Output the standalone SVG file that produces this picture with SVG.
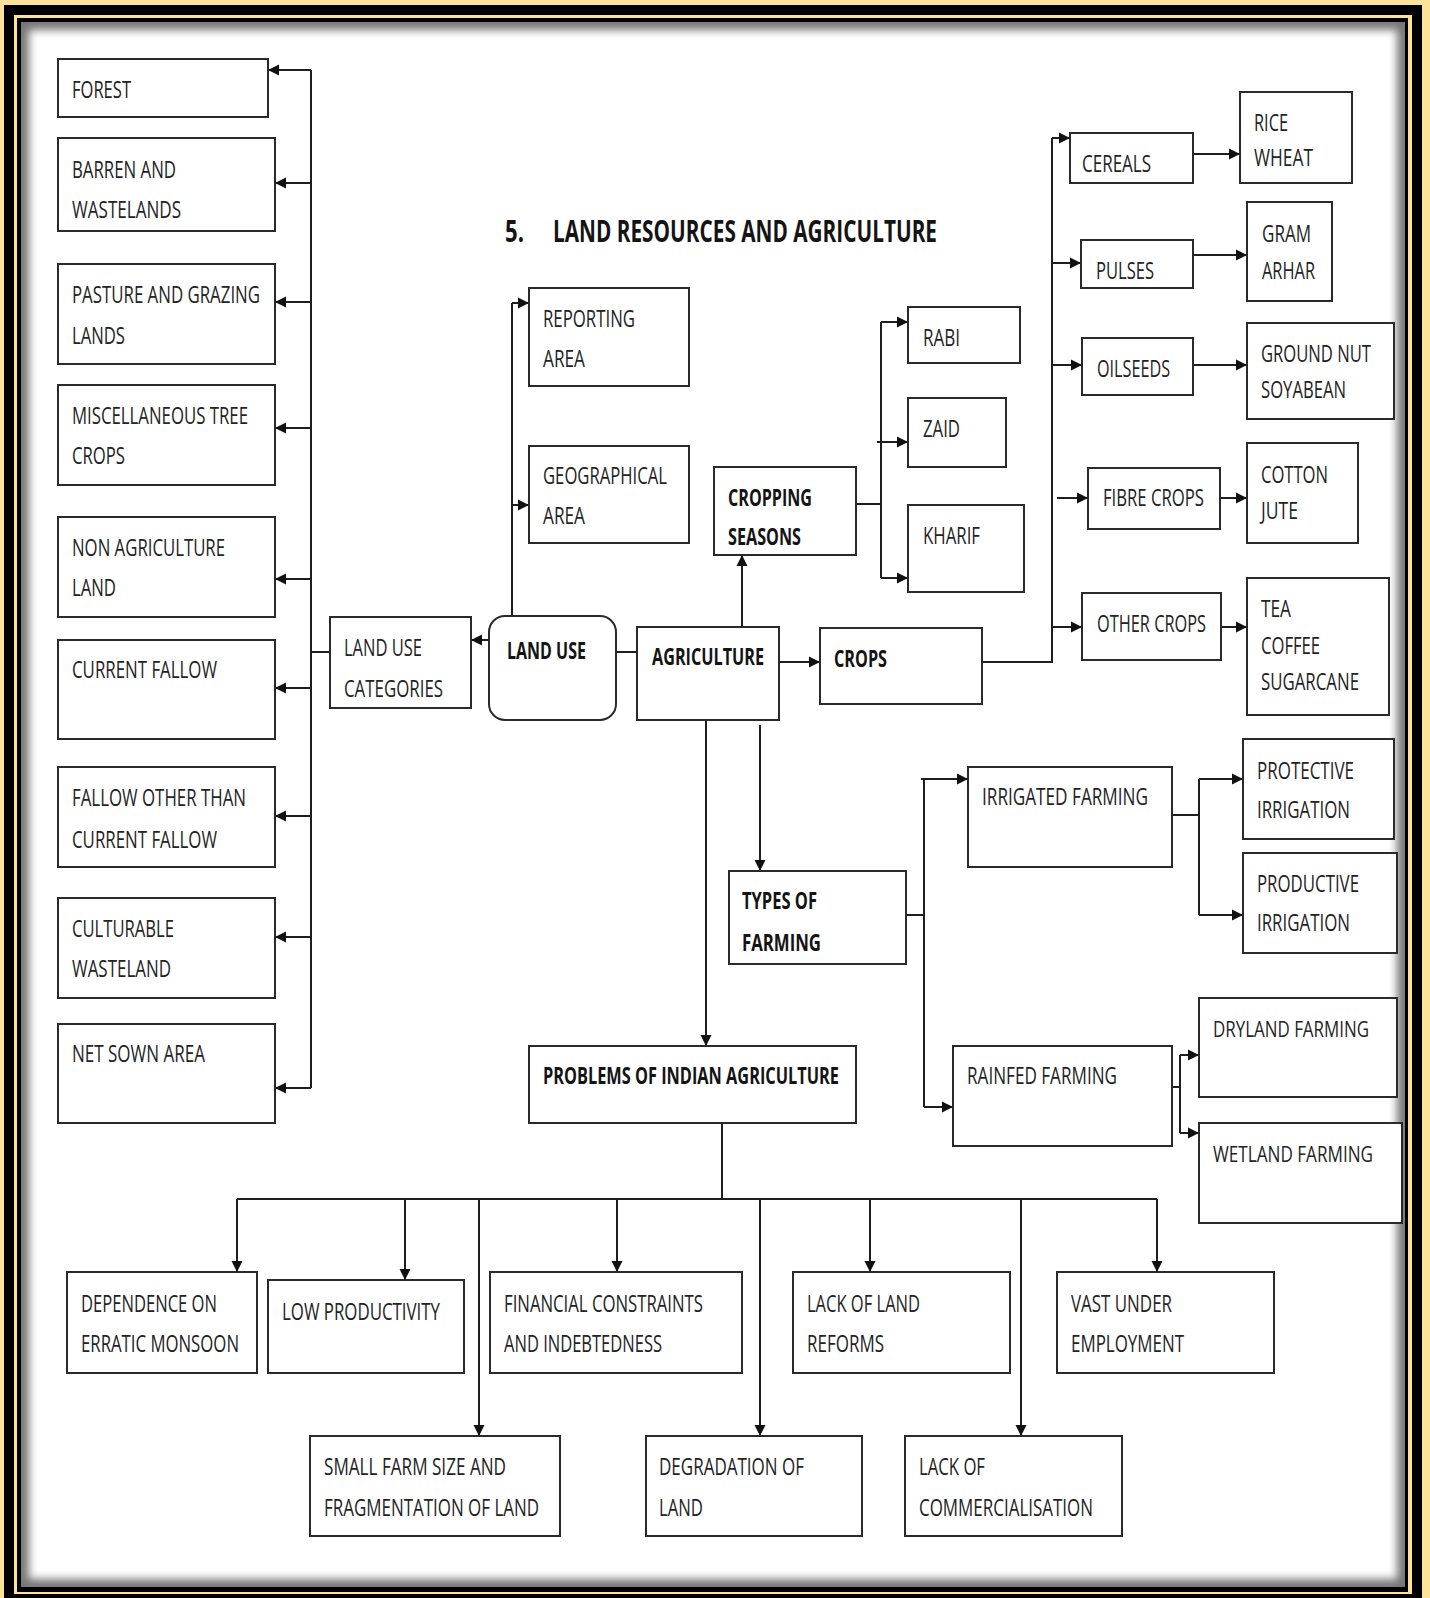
<svg xmlns="http://www.w3.org/2000/svg" width="1430" height="1598" viewBox="0 0 1430 1598">
  <style>
    .box { fill: #ffffff; stroke: #2a2a2a; stroke-width: 2; }
    .t { font-family: "Open Sans", "Liberation Sans", sans-serif; font-size: 24px; fill: #232323; }
    .tn { font-family: "Open Sans", "Liberation Sans", sans-serif; font-size: 22px; fill: #232323; }
    .b { font-family: "Open Sans", "Liberation Sans", sans-serif; font-size: 24px; font-weight: bold; fill: #141414; }
    .title { font-family: "Open Sans", "Liberation Sans", sans-serif; font-size: 31px; font-weight: bold; fill: #141414; }
    .ln { fill: none; stroke: #1e1e1e; stroke-width: 2; }
    .ar { fill: none; stroke: #1e1e1e; stroke-width: 2; marker-end: url(#head); }
  </style>
  <defs>
    <marker id="head" markerUnits="userSpaceOnUse" markerWidth="12" markerHeight="12" refX="11" refY="6" orient="auto">
      <path d="M0,0.5 L11,6 L0,11.5 z" fill="#111111"/>
    </marker>
    <clipPath id="inner"><rect x="21" y="22" width="1384" height="1565"/></clipPath>
    <filter id="soft" x="-5%" y="-5%" width="110%" height="110%"><feGaussianBlur stdDeviation="4"/></filter>
  </defs>

  <!-- frame -->
  <rect x="0" y="0" width="1430" height="1598" fill="#fde29a"/>
  <rect x="4" y="5" width="1418" height="1600" fill="#000000"/>
  <rect x="14" y="15" width="1398" height="1579" fill="#fde29a"/>
  <rect x="17" y="18" width="1391" height="1574" fill="#000000"/>
  <g clip-path="url(#inner)">
    <rect x="21" y="22" width="1384" height="1565" fill="#777777"/>
    <rect x="29" y="30" width="1368" height="1549" fill="#ffffff" filter="url(#soft)"/>
  </g>

  <!-- heading -->
  <text class="title" x="505" y="242" textLength="19" lengthAdjust="spacingAndGlyphs">5.</text>
  <text class="title" x="553" y="242" textLength="384" lengthAdjust="spacingAndGlyphs">LAND RESOURCES AND AGRICULTURE</text>

  <!-- connectors -->
  <g id="connectors">
    <!-- land use categories bus -->
    <path class="ln" d="M311,70 V1088 M330,652 H311"/>
    <path class="ar" d="M311,70 H268"/>
    <path class="ar" d="M311,183 H275"/>
    <path class="ar" d="M311,302 H275"/>
    <path class="ar" d="M311,428 H275"/>
    <path class="ar" d="M311,579 H275"/>
    <path class="ar" d="M311,688 H275"/>
    <path class="ar" d="M311,816 H275"/>
    <path class="ar" d="M311,937 H275"/>
    <path class="ar" d="M311,1088 H275"/>
    <path class="ar" d="M489,640 H471"/>
    <path class="ln" d="M616,652 H637"/>
    <!-- land use to areas -->
    <path class="ln" d="M512,616 V303"/>
    <path class="ar" d="M512,303 H529"/>
    <path class="ar" d="M512,505 H529"/>
    <!-- cropping seasons -->
    <path class="ar" d="M742,627 V555"/>
    <path class="ln" d="M856,504 H881 M881,322 V578"/>
    <path class="ar" d="M881,322 H908"/>
    <path class="ar" d="M877,442 H908"/>
    <path class="ar" d="M881,578 H908"/>
    <!-- crops -->
    <path class="ar" d="M779,662 H820"/>
    <path class="ln" d="M982,662 H1052 V138"/>
    <path class="ar" d="M1052,138 H1070"/>
    <path class="ar" d="M1052,263 H1081"/>
    <path class="ar" d="M1052,365 H1082"/>
    <path class="ar" d="M1057,498 H1088"/>
    <path class="ar" d="M1052,627 H1082"/>
    <path class="ar" d="M1193,154 H1240"/>
    <path class="ar" d="M1193,255 H1247"/>
    <path class="ar" d="M1193,365 H1247"/>
    <path class="ar" d="M1220,498 H1247"/>
    <path class="ar" d="M1221,627 H1247"/>
    <!-- types of farming -->
    <path class="ar" d="M760,725 V871"/>
    <path class="ln" d="M906,915 H924 M924,779 V1107"/>
    <path class="ar" d="M921,779 H968"/>
    <path class="ar" d="M924,1107 H953"/>
    <path class="ln" d="M1172,815 H1199 M1199,779 V915"/>
    <path class="ar" d="M1199,779 H1243"/>
    <path class="ar" d="M1199,915 H1243"/>
    <path class="ln" d="M1172,1087 H1180 M1180,1055 V1133"/>
    <path class="ar" d="M1180,1055 H1199"/>
    <path class="ar" d="M1180,1133 H1199"/>
    <!-- problems -->
    <path class="ar" d="M706,720 V1046"/>
    <path class="ln" d="M722,1123 V1199 M237,1199 H1157"/>
    <path class="ar" d="M237,1199 V1272"/>
    <path class="ar" d="M405,1199 V1280"/>
    <path class="ar" d="M479,1199 V1436"/>
    <path class="ar" d="M617,1199 V1272"/>
    <path class="ar" d="M760,1199 V1436"/>
    <path class="ar" d="M870,1199 V1272"/>
    <path class="ar" d="M1021,1199 V1436"/>
    <path class="ar" d="M1157,1199 V1272"/>
  </g>

  <!-- land use categories -->
  <g id="forest"><rect class="box" x="58" y="59" width="210" height="58"/>
    <text class="t" x="72" y="98" textLength="59" lengthAdjust="spacingAndGlyphs">FOREST</text></g>
  <g id="barren"><rect class="box" x="58" y="138" width="217" height="93"/>
    <text class="t" x="72" y="178" textLength="104" lengthAdjust="spacingAndGlyphs">BARREN AND</text>
    <text class="t" x="72" y="218" textLength="109" lengthAdjust="spacingAndGlyphs">WASTELANDS</text></g>
  <g id="pasture"><rect class="box" x="58" y="264" width="217" height="100"/>
    <text class="t" x="72" y="303" textLength="188" lengthAdjust="spacingAndGlyphs">PASTURE AND GRAZING</text>
    <text class="t" x="72" y="344" textLength="53" lengthAdjust="spacingAndGlyphs">LANDS</text></g>
  <g id="misc-tree"><rect class="box" x="58" y="385" width="217" height="100"/>
    <text class="t" x="72" y="424" textLength="176" lengthAdjust="spacingAndGlyphs">MISCELLANEOUS TREE</text>
    <text class="t" x="72" y="464" textLength="53" lengthAdjust="spacingAndGlyphs">CROPS</text></g>
  <g id="non-agri"><rect class="box" x="58" y="517" width="217" height="100"/>
    <text class="t" x="72" y="556" textLength="153" lengthAdjust="spacingAndGlyphs">NON AGRICULTURE</text>
    <text class="t" x="72" y="596" textLength="44" lengthAdjust="spacingAndGlyphs">LAND</text></g>
  <g id="current-fallow"><rect class="box" x="58" y="640" width="217" height="99"/>
    <text class="t" x="72" y="678" textLength="145" lengthAdjust="spacingAndGlyphs">CURRENT FALLOW</text></g>
  <g id="fallow-other"><rect class="box" x="58" y="767" width="217" height="100"/>
    <text class="t" x="72" y="806" textLength="174" lengthAdjust="spacingAndGlyphs">FALLOW OTHER THAN</text>
    <text class="t" x="72" y="848" textLength="145" lengthAdjust="spacingAndGlyphs">CURRENT FALLOW</text></g>
  <g id="culturable"><rect class="box" x="58" y="898" width="217" height="100"/>
    <text class="t" x="72" y="937" textLength="102" lengthAdjust="spacingAndGlyphs">CULTURABLE</text>
    <text class="t" x="72" y="977" textLength="99" lengthAdjust="spacingAndGlyphs">WASTELAND</text></g>
  <g id="net-sown"><rect class="box" x="58" y="1024" width="217" height="99"/>
    <text class="t" x="72" y="1062" textLength="133" lengthAdjust="spacingAndGlyphs">NET SOWN AREA</text></g>

  <g id="land-use-categories"><rect class="box" x="330" y="617" width="141" height="91"/>
    <text class="t" x="344" y="656" textLength="78" lengthAdjust="spacingAndGlyphs">LAND USE</text>
    <text class="t" x="344" y="697" textLength="99" lengthAdjust="spacingAndGlyphs">CATEGORIES</text></g>
  <g id="land-use"><rect class="box" x="489" y="616" width="127" height="104" rx="16"/>
    <text class="b" x="507" y="659" textLength="79" lengthAdjust="spacingAndGlyphs">LAND USE</text></g>
  <g id="agriculture"><rect class="box" x="637" y="627" width="142" height="93"/>
    <text class="b" x="652" y="665" textLength="112" lengthAdjust="spacingAndGlyphs">AGRICULTURE</text></g>
  <g id="crops"><rect class="box" x="820" y="628" width="162" height="76"/>
    <text class="b" x="834" y="667" textLength="53" lengthAdjust="spacingAndGlyphs">CROPS</text></g>

  <g id="reporting-area"><rect class="box" x="529" y="288" width="160" height="98"/>
    <text class="t" x="543" y="327" textLength="92" lengthAdjust="spacingAndGlyphs">REPORTING</text>
    <text class="t" x="543" y="367" textLength="42" lengthAdjust="spacingAndGlyphs">AREA</text></g>
  <g id="geographical-area"><rect class="box" x="529" y="446" width="160" height="97"/>
    <text class="t" x="543" y="484" textLength="124" lengthAdjust="spacingAndGlyphs">GEOGRAPHICAL</text>
    <text class="t" x="543" y="524" textLength="42" lengthAdjust="spacingAndGlyphs">AREA</text></g>

  <g id="cropping-seasons"><rect class="box" x="714" y="467" width="142" height="88"/>
    <text class="b" x="728" y="506" textLength="84" lengthAdjust="spacingAndGlyphs">CROPPING</text>
    <text class="b" x="728" y="545" textLength="73" lengthAdjust="spacingAndGlyphs">SEASONS</text></g>
  <g id="rabi"><rect class="box" x="908" y="307" width="112" height="56"/>
    <text class="t" x="923" y="346" textLength="37" lengthAdjust="spacingAndGlyphs">RABI</text></g>
  <g id="zaid"><rect class="box" x="908" y="398" width="98" height="69"/>
    <text class="t" x="923" y="437" textLength="37" lengthAdjust="spacingAndGlyphs">ZAID</text></g>
  <g id="kharif"><rect class="box" x="908" y="505" width="116" height="87"/>
    <text class="t" x="923" y="544" textLength="57" lengthAdjust="spacingAndGlyphs">KHARIF</text></g>

  <!-- crop groups -->
  <g id="cereals"><rect class="box" x="1070" y="133" width="123" height="50"/>
    <text class="t" x="1082" y="172" textLength="69" lengthAdjust="spacingAndGlyphs">CEREALS</text></g>
  <g id="pulses"><rect class="box" x="1081" y="240" width="112" height="48"/>
    <text class="t" x="1096" y="279" textLength="58" lengthAdjust="spacingAndGlyphs">PULSES</text></g>
  <g id="oilseeds"><rect class="box" x="1082" y="338" width="111" height="57"/>
    <text class="t" x="1097" y="377" textLength="73" lengthAdjust="spacingAndGlyphs">OILSEEDS</text></g>
  <g id="fibre-crops"><rect class="box" x="1088" y="468" width="132" height="61"/>
    <text class="t" x="1103" y="506" textLength="101" lengthAdjust="spacingAndGlyphs">FIBRE CROPS</text></g>
  <g id="other-crops"><rect class="box" x="1082" y="593" width="139" height="67"/>
    <text class="t" x="1097" y="632" textLength="109" lengthAdjust="spacingAndGlyphs">OTHER CROPS</text></g>

  <g id="rice-wheat"><rect class="box" x="1240" y="92" width="112" height="91"/>
    <text class="t" x="1254" y="131" textLength="34" lengthAdjust="spacingAndGlyphs">RICE</text>
    <text class="t" x="1254" y="166" textLength="59" lengthAdjust="spacingAndGlyphs">WHEAT</text></g>
  <g id="gram-arhar"><rect class="box" x="1247" y="202" width="85" height="99"/>
    <text class="t" x="1262" y="242" textLength="49" lengthAdjust="spacingAndGlyphs">GRAM</text>
    <text class="t" x="1262" y="279" textLength="53" lengthAdjust="spacingAndGlyphs">ARHAR</text></g>
  <g id="groundnut-soyabean"><rect class="box" x="1247" y="323" width="147" height="96"/>
    <text class="t" x="1261" y="362" textLength="110" lengthAdjust="spacingAndGlyphs">GROUND NUT</text>
    <text class="t" x="1261" y="398" textLength="85" lengthAdjust="spacingAndGlyphs">SOYABEAN</text></g>
  <g id="cotton-jute"><rect class="box" x="1247" y="443" width="111" height="100"/>
    <text class="t" x="1261" y="483" textLength="67" lengthAdjust="spacingAndGlyphs">COTTON</text>
    <text class="t" x="1261" y="519" textLength="37" lengthAdjust="spacingAndGlyphs">JUTE</text></g>
  <g id="tea-coffee-sugarcane"><rect class="box" x="1247" y="578" width="142" height="137"/>
    <text class="t" x="1261" y="617" textLength="30" lengthAdjust="spacingAndGlyphs">TEA</text>
    <text class="t" x="1261" y="654" textLength="59" lengthAdjust="spacingAndGlyphs">COFFEE</text>
    <text class="t" x="1261" y="690" textLength="98" lengthAdjust="spacingAndGlyphs">SUGARCANE</text></g>

  <!-- farming types -->
  <g id="types-of-farming"><rect class="box" x="729" y="871" width="177" height="93"/>
    <text class="b" x="742" y="909" textLength="75" lengthAdjust="spacingAndGlyphs">TYPES OF</text>
    <text class="b" x="742" y="951" textLength="79" lengthAdjust="spacingAndGlyphs">FARMING</text></g>
  <g id="irrigated-farming"><rect class="box" x="968" y="767" width="204" height="100"/>
    <text class="t" x="982" y="805" textLength="166" lengthAdjust="spacingAndGlyphs">IRRIGATED FARMING</text></g>
  <g id="rainfed-farming"><rect class="box" x="953" y="1046" width="219" height="100"/>
    <text class="t" x="967" y="1084" textLength="150" lengthAdjust="spacingAndGlyphs">RAINFED FARMING</text></g>
  <g id="protective-irrigation"><rect class="box" x="1243" y="739" width="151" height="100"/>
    <text class="t" x="1257" y="779" textLength="97" lengthAdjust="spacingAndGlyphs">PROTECTIVE</text>
    <text class="t" x="1257" y="818" textLength="93" lengthAdjust="spacingAndGlyphs">IRRIGATION</text></g>
  <g id="productive-irrigation"><rect class="box" x="1243" y="853" width="154" height="100"/>
    <text class="t" x="1257" y="892" textLength="102" lengthAdjust="spacingAndGlyphs">PRODUCTIVE</text>
    <text class="t" x="1257" y="931" textLength="93" lengthAdjust="spacingAndGlyphs">IRRIGATION</text></g>
  <g id="dryland-farming"><rect class="box" x="1199" y="998" width="198" height="99"/>
    <text class="tn" x="1213" y="1037" textLength="156" lengthAdjust="spacingAndGlyphs">DRYLAND FARMING</text></g>
  <g id="wetland-farming"><rect class="box" x="1199" y="1123" width="203" height="100"/>
    <text class="tn" x="1213" y="1162" textLength="160" lengthAdjust="spacingAndGlyphs">WETLAND FARMING</text></g>

  <!-- problems -->
  <g id="problems"><rect class="box" x="529" y="1046" width="327" height="77"/>
    <text class="b" x="543" y="1084" textLength="296" lengthAdjust="spacingAndGlyphs">PROBLEMS OF INDIAN AGRICULTURE</text></g>
  <g id="monsoon"><rect class="box" x="67" y="1272" width="190" height="101"/>
    <text class="t" x="81" y="1312" textLength="136" lengthAdjust="spacingAndGlyphs">DEPENDENCE ON</text>
    <text class="t" x="81" y="1352" textLength="158" lengthAdjust="spacingAndGlyphs">ERRATIC MONSOON</text></g>
  <g id="low-productivity"><rect class="box" x="268" y="1280" width="196" height="93"/>
    <text class="t" x="282" y="1320" textLength="158" lengthAdjust="spacingAndGlyphs">LOW PRODUCTIVITY</text></g>
  <g id="financial"><rect class="box" x="490" y="1272" width="252" height="101"/>
    <text class="t" x="504" y="1312" textLength="199" lengthAdjust="spacingAndGlyphs">FINANCIAL CONSTRAINTS</text>
    <text class="t" x="504" y="1352" textLength="158" lengthAdjust="spacingAndGlyphs">AND INDEBTEDNESS</text></g>
  <g id="land-reforms"><rect class="box" x="793" y="1272" width="217" height="101"/>
    <text class="t" x="807" y="1312" textLength="113" lengthAdjust="spacingAndGlyphs">LACK OF LAND</text>
    <text class="t" x="807" y="1352" textLength="77" lengthAdjust="spacingAndGlyphs">REFORMS</text></g>
  <g id="under-employment"><rect class="box" x="1057" y="1272" width="217" height="101"/>
    <text class="t" x="1071" y="1312" textLength="101" lengthAdjust="spacingAndGlyphs">VAST UNDER</text>
    <text class="t" x="1071" y="1352" textLength="113" lengthAdjust="spacingAndGlyphs">EMPLOYMENT</text></g>
  <g id="small-farm"><rect class="box" x="310" y="1436" width="250" height="100"/>
    <text class="t" x="324" y="1475" textLength="182" lengthAdjust="spacingAndGlyphs">SMALL FARM SIZE AND</text>
    <text class="t" x="324" y="1516" textLength="215" lengthAdjust="spacingAndGlyphs">FRAGMENTATION OF LAND</text></g>
  <g id="degradation"><rect class="box" x="646" y="1436" width="216" height="100"/>
    <text class="t" x="659" y="1475" textLength="145" lengthAdjust="spacingAndGlyphs">DEGRADATION OF</text>
    <text class="t" x="659" y="1516" textLength="44" lengthAdjust="spacingAndGlyphs">LAND</text></g>
  <g id="commercialisation"><rect class="box" x="905" y="1436" width="217" height="100"/>
    <text class="t" x="919" y="1475" textLength="66" lengthAdjust="spacingAndGlyphs">LACK OF</text>
    <text class="t" x="919" y="1516" textLength="174" lengthAdjust="spacingAndGlyphs">COMMERCIALISATION</text></g>
</svg>
